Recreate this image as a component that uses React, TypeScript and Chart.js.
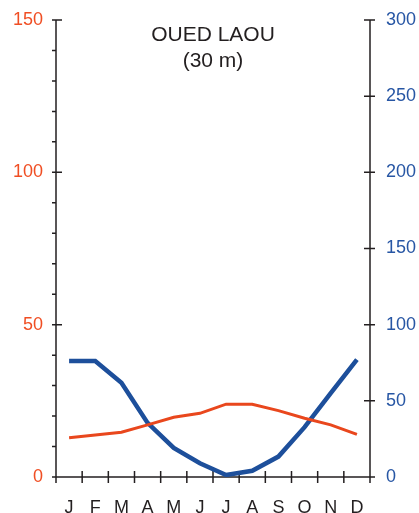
import React, { useEffect, useRef } from 'react';
import { Chart, registerables } from 'chart.js';

Chart.register(...registerables);

const MONTHS = ['J', 'F', 'M', 'A', 'M', 'J', 'J', 'A', 'S', 'O', 'N', 'D'];
const TEMPERATURE = [12.9, 13.8, 14.7, 17.1, 19.6, 20.9, 23.9, 23.9, 21.8, 19.3, 17.1, 14.0];
const PRECIPITATION = [76.2, 76.2, 61.8, 35.5, 19.1, 9.0, 1.3, 4.1, 13.4, 32.7, 55.1, 77.0];
const LEFT_MAX = 150;
const LEFT_STEP = 50;
const LEFT_MINOR_STEP = 10;
const RIGHT_MAX = 300;
const RIGHT_STEP = 50;
const TITLE_LINES = ['OUED LAOU', '(30 m)'];

const FONT = '"Liberation Sans", Arial, sans-serif';
const AXIS_COLOR = '#231f20';
const ORANGE_LINE = '#e9471d';
const ORANGE_TEXT = '#f04e23';
const BLUE_LINE = '#1d4f9b';
const BLUE_TEXT = '#2756a4';

const axesPlugin = {
  id: 'climAxes',
  beforeDatasetsDraw(chart: any) {
    const { ctx, chartArea: a, scales } = chart;
    const yL = scales.yL;
    const yR = scales.yR;
    const x = scales.x;
    ctx.save();
    ctx.strokeStyle = AXIS_COLOR;
    ctx.lineWidth = 1.5;
    ctx.lineCap = 'butt';
    ctx.beginPath();
    ctx.moveTo(a.left, a.top);
    ctx.lineTo(a.left, a.bottom + 6);
    ctx.moveTo(a.right, a.top);
    ctx.lineTo(a.right, a.bottom + 6);
    ctx.moveTo(a.left - 3, a.bottom);
    ctx.lineTo(a.right + 3, a.bottom);
    for (let v = 0; v <= LEFT_MAX; v += LEFT_MINOR_STEP) {
      const y = yL.getPixelForValue(v);
      const major = v % LEFT_STEP === 0;
      ctx.moveTo(a.left - 4, y);
      ctx.lineTo(a.left + (major ? 6 : 0), y);
    }
    for (let v = 0; v <= RIGHT_MAX; v += RIGHT_STEP) {
      const y = yR.getPixelForValue(v);
      ctx.moveTo(a.right - 6, y);
      ctx.lineTo(a.right + 5, y);
    }
    for (let i = 1; i < MONTHS.length; i++) {
      const xp = (x.getPixelForValue(i - 1) + x.getPixelForValue(i)) / 2;
      ctx.moveTo(xp, a.bottom - 6);
      ctx.lineTo(xp, a.bottom + 6);
    }
    ctx.stroke();
    ctx.restore();
  },
  afterDraw(chart: any) {
    const { ctx, chartArea: a } = chart;
    ctx.save();
    ctx.fillStyle = AXIS_COLOR;
    ctx.font = `21px ${FONT}`;
    ctx.textAlign = 'center';
    ctx.textBaseline = 'alphabetic';
    const cx = (a.left + a.right) / 2;
    TITLE_LINES.forEach((t, i) => {
      ctx.fillText(t, cx, a.top + 21 + i * 26);
    });
    ctx.restore();
  },
};

function noVerticalPadding(s: any) {
  s.paddingTop = 0;
  s.paddingBottom = 0;
}

export default function App() {
  const ref = useRef<HTMLCanvasElement | null>(null);

  useEffect(() => {
    if (!ref.current) return;
    const chart = new Chart(ref.current, {
      type: 'line',
      data: {
        labels: MONTHS,
        datasets: [
          {
            label: 'Température',
            data: TEMPERATURE,
            yAxisID: 'yL',
            borderColor: ORANGE_LINE,
            borderWidth: 3,
            pointRadius: 0,
            tension: 0,
            fill: false,
          },
          {
            label: 'Précipitations',
            data: PRECIPITATION,
            yAxisID: 'yR',
            borderColor: BLUE_LINE,
            borderWidth: 4.5,
            pointRadius: 0,
            tension: 0,
            fill: false,
          },
        ],
      },
      options: {
        responsive: false,
        animation: false,
        layout: { padding: { top: 20, left: 0, right: 0, bottom: 0 } },
        plugins: {
          legend: { display: false },
          title: { display: false },
          tooltip: { enabled: false },
        },
        scales: {
          x: {
            type: 'category',
            offset: true,
            grid: { display: false, drawTicks: false },
            border: { display: false },
            ticks: {
              color: AXIS_COLOR,
              font: { family: FONT, size: 18 },
              padding: 20,
              maxRotation: 0,
              autoSkip: false,
            },
            afterFit(s: any) {
              s.height = 36;
              s.paddingLeft = 0;
              s.paddingRight = 0;
            },
          },
          yL: {
            type: 'linear',
            position: 'left',
            min: 0,
            max: LEFT_MAX,
            grid: { display: false, drawTicks: false },
            border: { display: false },
            ticks: {
              stepSize: LEFT_STEP,
              color: ORANGE_TEXT,
              font: { family: FONT, size: 18 },
              padding: 13,
            },
            afterFit(s: any) {
              s.width = 56;
              noVerticalPadding(s);
            },
          },
          yR: {
            type: 'linear',
            position: 'right',
            min: 0,
            max: RIGHT_MAX,
            grid: { display: false, drawTicks: false },
            border: { display: false },
            ticks: {
              stepSize: RIGHT_STEP,
              color: BLUE_TEXT,
              font: { family: FONT, size: 18 },
              padding: 16,
            },
            afterFit(s: any) {
              s.width = 49;
              noVerticalPadding(s);
            },
          },
        },
      },
      plugins: [axesPlugin],
    });
    return () => chart.destroy();
  }, []);

  return (
    <div style={{ position: 'absolute', left: 0, top: 0, width: 419, height: 513, background: '#fff' }}>
      <canvas ref={ref} width={419} height={513} style={{ display: 'block', width: 419, height: 513 }} />
    </div>
  );
}
